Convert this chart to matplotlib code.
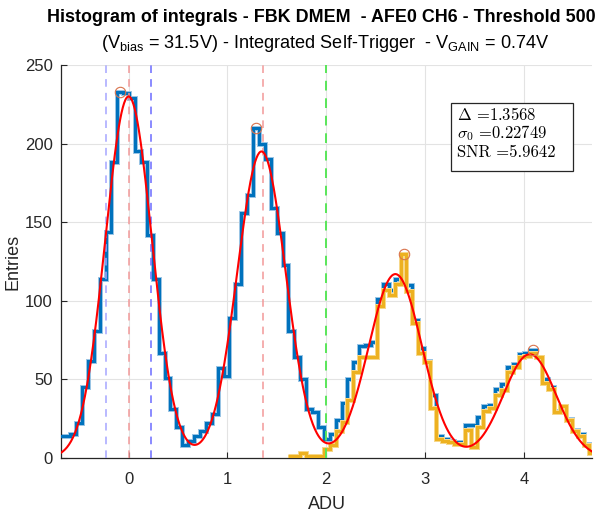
import numpy as np
import matplotlib
matplotlib.use("Agg")
import matplotlib.pyplot as plt

# ---------------- data ----------------
bin_start = -0.7111      # left edge of first bin (ADU)
bin_width = 0.05972      # ADU
blue_counts = [14, 14, 15, 22, 45, 62, 81, 114, 144, 188,
               233, 232, 229, 195, 188, 142, 114, 67, 51, 31,
               20, 8, 11, 14, 17, 22, 28, 57, 52, 89,
               111, 156, 167, 210, 200, 190, 159, 143, 123, 81,
               64, 50, 31, 29, 20, 12, 15, 24, 35, 50,
               61, 71, 72, 74, 101, 111, 107, 114, 130, 110,
               88, 70, 62, 40, 14, 12, 11, 10, 10, 21,
               21, 26, 33, 34, 44, 47, 58, 60, 66, 67,
               69, 64, 50, 45, 30, 33, 25, 18, 15, 9, 3]
yellow_first_bin = 39
yellow_counts = [1, 1, 3, 1, 1, 1, 6, 8, 17, 23,
                 37, 55, 64, 64, 64, 97, 107, 104, 111, 130,
                 106, 86, 67, 61, 32, 12, 11, 10, 9, 9,
                 18, 7, 20, 30, 32, 40, 43, 55, 58, 64,
                 65, 67, 64, 48, 44, 29, 33, 24, 17, 14, 8, 3]
peak_bins = [10, 33, 58, 80]
fit_amp = [230, 195, 117, 66]
fit_mu = [0.0, 1.345, 2.70, 4.06]
fit_sigma = [0.235, 0.245, 0.27, 0.268]
delta = 1.3568
sigma0 = 0.22749
snr = 5.9642
green_x = 2.0
xlim = (-0.684, 4.69)
ylim = (0, 250)

# ---------------- style ----------------
plt.rcParams['font.family'] = ['Liberation Sans', 'DejaVu Sans']
plt.rcParams['mathtext.fontset'] = 'custom'
plt.rcParams['mathtext.rm'] = 'Liberation Sans'
plt.rcParams['mathtext.it'] = 'Liberation Sans:italic'

fig = plt.figure(figsize=(5.97, 5.15), dpi=100)
ax = fig.add_axes([61/597, 1 - 458/515, (592-61)/597, (458-65)/515])

edges = bin_start + bin_width * np.arange(len(blue_counts) + 1)
centers = 0.5 * (edges[:-1] + edges[1:])
yedges = edges[yellow_first_bin:yellow_first_bin + len(yellow_counts) + 1]

blue = (0.0, 0.447, 0.741)
yellow = (0.929, 0.694, 0.125)
dark = (0.15, 0.15, 0.15)

# grid
ax.set_axisbelow(True)
ax.grid(True, color=(0.89, 0.89, 0.89), linewidth=0.8)

# stairs with light halo
ax.stairs(blue_counts, edges, baseline=None, color=(0.62, 0.78, 0.9), lw=3.6, zorder=2)
ax.stairs(blue_counts, edges, baseline=None, color=blue, lw=2.2, zorder=3)
ax.stairs(yellow_counts, yedges, baseline=None, color=(0.97, 0.85, 0.55), lw=3.6, zorder=4)
ax.stairs(yellow_counts, yedges, baseline=None, color=yellow, lw=2.2, zorder=5)

# vertical lines
ax.axvline(0, color=(0.95, 0.6, 0.6), ls=(0, (5, 4)), lw=1.1, zorder=6)
ax.axvline(delta, color=(0.95, 0.6, 0.6), ls=(0, (5, 4)), lw=1.1, zorder=6)
ax.axvline(-sigma0, color=(0.65, 0.65, 1.0), ls=(0, (5, 4)), lw=1.1, zorder=6)
ax.axvline(sigma0, color=(0.42, 0.42, 1.0), ls=(0, (5, 4)), lw=1.1, zorder=6)
ax.axvline(green_x, color=(0.35, 0.9, 0.35), ls=(0, (5, 4)), lw=1.4, zorder=6)

# fit curve
xf = np.linspace(xlim[0], xlim[1], 800)
yf = np.zeros_like(xf)
for a, m, s in zip(fit_amp, fit_mu, fit_sigma):
    yf += a * np.exp(-0.5 * ((xf - m) / s) ** 2)
ax.plot(xf, yf, color='red', lw=1.5, zorder=7)

# peak markers
ax.plot(centers[peak_bins], np.array(blue_counts)[peak_bins], 'o', ms=7.5,
        mfc='none', mec=(0.85, 0.45, 0.3), mew=0.8, zorder=8)

ax.set_xlim(*xlim)
ax.set_ylim(*ylim)
ax.set_xticks([0, 1, 2, 3, 4])
ax.set_yticks([0, 50, 100, 150, 200, 250])
for sp in ['top', 'right']:
    ax.spines[sp].set_visible(False)
for sp in ['left', 'bottom']:
    ax.spines[sp].set_color(dark)
    ax.spines[sp].set_linewidth(0.9)
ax.tick_params(direction='in', length=4, labelsize=12, colors=dark)
ax.tick_params(axis='x', pad=10)
ax.tick_params(axis='y', pad=6)
ax.set_xlabel('ADU', fontsize=13, color=dark)
ax.set_ylabel('Entries', fontsize=13, color=dark)
ax.xaxis.set_label_coords(0.5, -(496 - 458) / 393)
ax.yaxis.set_label_coords(-(61 - 22) / 531, 0.5)

fig.text(321/597, 1 - 17/515, 'Histogram of integrals - FBK DMEM  - AFE0 CH6 - Threshold 500',
         ha='center', va='center', fontsize=12.9, fontweight='bold')
fig.text(325/597, 1 - 43/515,
         r'(V$_{\mathrm{bias}}$ = 31.5V) - Integrated Self-Trigger  - V$_{\mathrm{GAIN}}$ = 0.74V',
         ha='center', va='center', fontsize=13.1)

# stats box
ax.add_patch(plt.Rectangle((451/597, 1 - 171/515), (573-451)/597, (171-103)/515,
                           transform=fig.transFigure, facecolor='white',
                           edgecolor=dark, lw=0.9, zorder=10))
lines = [r'$\Delta$ =%.4f' % delta, r'$\sigma_0$ =%.5f' % sigma0, r'SNR =%.4f' % snr]
for txt, yy in zip(lines, [114, 133, 152]):
    fig.text(457/597, 1 - yy/515, txt, ha='left', va='center', fontsize=11.9,
             family='cmr10', math_fontfamily='cm', zorder=11)

fig.savefig('out.png', dpi=100)
